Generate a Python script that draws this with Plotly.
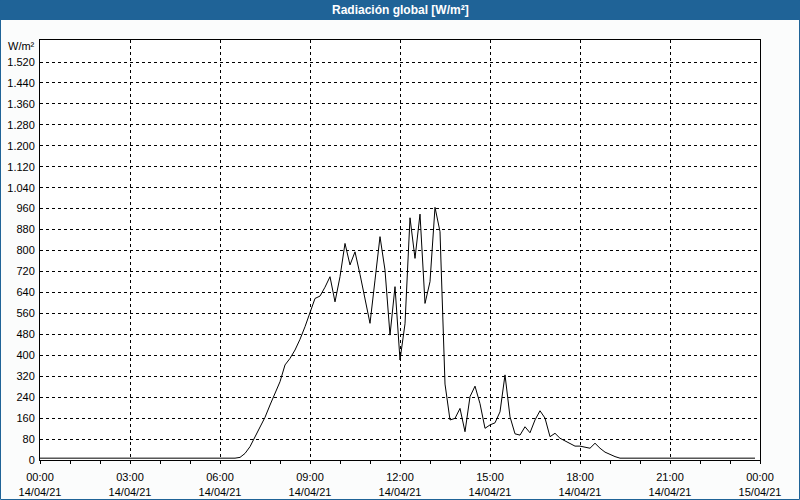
import plotly.graph_objects as go
import pandas as pd

# 10-minute samples, 14/04/21 00:00 .. 23:50
times = pd.date_range("2021-04-14 00:00", periods=144, freq="10min")

radiation = [
    # 00:00 - 05:50
    7, 7, 7, 7, 7, 7, 7, 7, 7, 7, 7, 7,
    7, 7, 7, 7, 7, 7, 7, 7, 7, 7, 7, 7,
    7, 7, 7, 7, 7, 7, 7, 7, 7, 7, 7, 7,
    # 06:00 - 06:50
    7, 7, 7, 7, 10, 25,
    # 07:00 - 07:50
    51, 89, 127, 163, 210, 255,
    # 08:00 - 08:50
    299, 363, 388, 420, 461, 509,
    # 09:00 - 09:50
    560, 617, 626, 660, 700, 604,
    # 10:00 - 10:50
    700, 827, 745, 795, 709, 615,
    # 11:00 - 11:50
    522, 687, 853, 725, 477, 662,
    # 12:00 - 12:50
    382, 520, 925, 770, 939, 598,
    # 13:00 - 13:50
    681, 965, 872, 290, 153, 159,
    # 14:00 - 14:50
    197, 108, 242, 282, 215, 121,
    # 15:00 - 15:50
    134, 142, 184, 325, 165, 100,
    # 16:00 - 16:50
    95, 127, 104, 153, 188, 160,
    # 17:00 - 17:50
    89, 102, 83, 73, 62, 53,
    # 18:00 - 18:50
    53, 50, 45, 64, 45, 30,
    # 19:00 - 19:50
    20, 13, 7, 7, 7, 7,
    # 20:00 - 23:50
    7, 7, 7, 7, 7, 7,
    7, 7, 7, 7, 7, 7,
    7, 7, 7, 7, 7, 7,
    7, 7, 7, 7, 7, 7,
]

y_tickvals = [0, 80, 160, 240, 320, 400, 480, 560, 640, 720, 800, 880, 960,
              1040, 1120, 1200, 1280, 1360, 1440, 1520]
y_ticktext = ["0", "80", "160", "240", "320", "400", "480", "560", "640", "720",
              "800", "880", "960", "1.040", "1.120", "1.200", "1.280", "1.360",
              "1.440", "1.520"]

title_text = "Radiación global [W/m²]"
unit_text = "W/m²"

BLUE = "#1F6397"
FONT = "Liberation Sans"

fig = go.Figure()
fig.add_trace(go.Scatter(
    x=times, y=radiation, mode="lines",
    line=dict(color="black", width=1),
    hoverinfo="skip", showlegend=False,
))

fig.update_layout(
    width=800, height=500,
    margin=dict(l=40, r=40, t=40, b=40, autoexpand=False),
    paper_bgcolor="#FBFCFC",
    plot_bgcolor="white",
    font=dict(family=FONT, size=11, color="black"),
    showlegend=False,
)

fig.update_xaxes(
    type="date",
    automargin=False,
    range=["2021-04-14 00:00", "2021-04-15 00:00"],
    dtick=3 * 3600000,
    tick0="2021-04-14 00:00",
    tickformat="%H:%M<br>%d/%m/%y",
    ticks="outside", ticklen=3, tickcolor="black",
    minor=dict(dtick=3600000, tick0="2021-04-14 00:00", ticks="outside",
               ticklen=3, tickcolor="black", showgrid=False),
    showgrid=True, gridcolor="black", gridwidth=1, griddash="3px,3px",
    showline=True, linecolor="black", linewidth=1, mirror=True,
    zeroline=False,
    ticklabelstandoff=4,
)

fig.update_yaxes(
    automargin=False,
    range=[0, 1604],
    tickmode="array", tickvals=y_tickvals, ticktext=y_ticktext,
    ticks="",
    showgrid=True, gridcolor="black", gridwidth=1, griddash="3px,3px",
    showline=True, linecolor="black", linewidth=1, mirror=True,
    zeroline=False,
    ticklabelstandoff=2,
)

# Title bar (paper coordinates relative to plot area: px -> paper)
def px_x(px):
    return (px - 40) / 720.0

def px_y(py):
    return (460 - py) / 420.0

fig.add_shape(type="rect", xref="paper", yref="paper",
              x0=px_x(0), x1=px_x(800), y0=px_y(20), y1=px_y(0),
              fillcolor=BLUE, line=dict(width=0), layer="below")
fig.add_shape(type="rect", xref="paper", yref="paper",
              x0=px_x(0.5), x1=px_x(799.5), y0=px_y(499.5), y1=px_y(0.5),
              fillcolor="rgba(0,0,0,0)", line=dict(color=BLUE, width=1),
              layer="above")

fig.add_annotation(text="<b>" + title_text + "</b>", xref="paper", yref="paper",
                   x=px_x(400), y=px_y(10), xanchor="center", yanchor="middle",
                   showarrow=False, font=dict(family=FONT, size=12, color="white"))
fig.add_annotation(text=unit_text, xref="paper", yref="paper",
                   x=px_x(37), y=px_y(46), xanchor="right", yanchor="middle",
                   showarrow=False, font=dict(family=FONT, size=11, color="black"))

fig.write_html("out.html")
